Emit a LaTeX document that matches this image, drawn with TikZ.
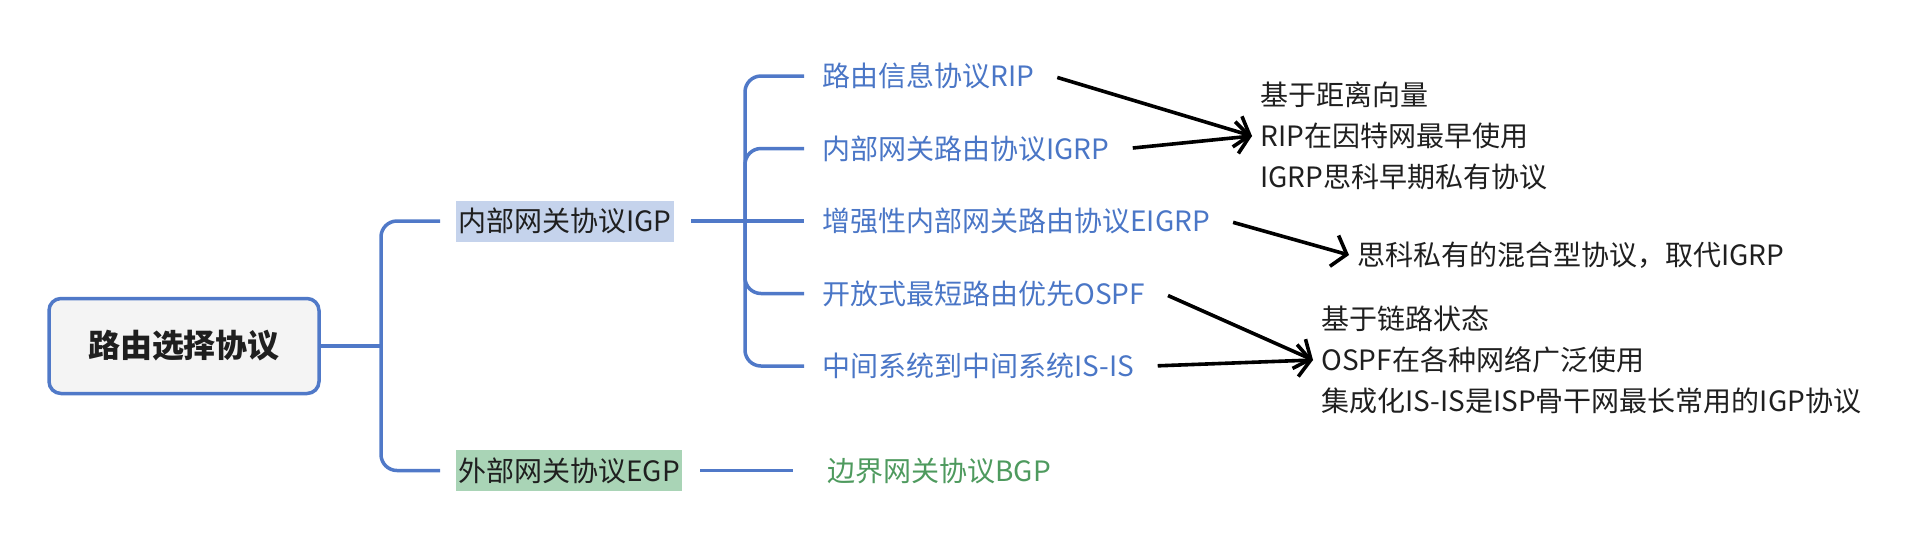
\documentclass[tikz,border=0pt]{standalone}
\usepackage{fontspec}
\setmainfont{Noto Sans CJK SC}
\usepackage{xcolor}
\definecolor{cLine}{HTML}{5079C8}
\definecolor{cLeaf}{HTML}{4A76C6}
\definecolor{cInk}{HTML}{1F1F1F}
\definecolor{cIGP}{HTML}{C5D3EC}
\definecolor{cEGP}{HTML}{A9D4B6}
\definecolor{cBGP}{HTML}{4E9A5E}
\definecolor{cRoot}{HTML}{F4F4F4}
\usepackage{tikz}
\usetikzlibrary{positioning,arrows.meta}
\tikzset{
  node-root/.style={draw=cLine,line width=1.75pt,rounded corners=6pt,fill=cRoot,
    minimum width=135pt,minimum height=47.5pt,text=cInk,
    font=\fontsize{16}{20}\selectfont\bfseries},
  node-mid/.style={inner xsep=1pt,inner ysep=0pt,minimum height=20.5pt,text=cInk,
    font=\fontsize{14}{20.5}\selectfont},
  node-leaf/.style={inner xsep=9pt,inner ysep=2pt,text=cLeaf,
    font=\fontsize{14}{20.5}\selectfont},
  node-note/.style={inner xsep=4pt,inner ysep=2pt,align=left,text=cInk,
    font=\fontsize{14}{20.5}\selectfont},
  branch/.style={draw=cLine,line width=1.75pt,rounded corners=8pt},
  arrow/.style={-{Straight Barb[length=6.5pt,width=16pt]},line width=1.8pt,
    draw=black,shorten <=2.5pt},
}

\begin{document}
\begin{tikzpicture}[x=0.5pt,y=-0.5pt]
  \useasboundingbox (0,0) rectangle (1908,548);
  % 根节点与两个分支
  \node[node-root]                        (root) at (184,346) {路由选择协议};
  \node[node-mid,fill=cIGP,anchor=west]   (igp)  at (456,221) {内部网关协议IGP};
  \node[node-mid,fill=cEGP,anchor=west]   (egp)  at (456,470.5) {外部网关协议EGP};
  \coordinate (t1) at (381,346);
  \coordinate (t2) at (745,221);
  % IGP 下的五种协议
  \node[node-leaf,anchor=west] (rip)   at (804,76)    {路由信息协议RIP};
  \node[node-leaf,anchor=west] (igrp)  at (804,148.5) {内部网关路由协议IGRP};
  \node[node-leaf,anchor=west] (eigrp) at (804,221)   {增强性内部网关路由协议EIGRP};
  \node[node-leaf,anchor=west] (ospf)  at (804,293.5) {开放式最短路由优先OSPF};
  \node[node-leaf,anchor=west] (isis)  at (804,366)   {中间系统到中间系统IS-IS};
  \node[node-leaf,text=cBGP,anchor=west] (bgp) at (809,470.5) {边界网关协议BGP};
  % 说明文字
  \node[node-note,anchor=west] (n-dv)    at (1252,136) {基于距离向量\\RIP在因特网最早使用\\IGRP思科早期私有协议};
  \node[node-note,anchor=west] (n-cisco) at (1349,255) {思科私有的混合型协议，取代IGRP};
  \node[node-note,anchor=west] (n-ls)    at (1313,360) {基于链路状态\\OSPF在各种网络广泛使用\\集成化IS-IS是ISP骨干网最长常用的IGP协议};
  % 连线
  \draw[branch] (root) -- (t1);
  \draw[branch,shorten >=8pt] (t1) |- (igp.west);
  \draw[branch,shorten >=8pt] (t1) |- (egp.west);
  \draw[branch] ([xshift=8.5pt]igp.east) -- (t2);
  \draw[branch] (t2) |- (rip.west);
  \draw[branch] (t2) |- (igrp.west);
  \draw[branch] (t2) -- (eigrp.west);
  \draw[branch] (t2) |- (ospf.west);
  \draw[branch] (t2) |- (isis.west);
  \draw[branch] ([xshift=9pt]egp.east) -- ([xshift=-8pt]bgp.west);
  \draw[arrow] (rip.east)   -- (n-dv.west);
  \draw[arrow] (igrp.east)  -- (n-dv.west);
  \draw[arrow] (eigrp.east) -- (n-cisco.west);
  \draw[arrow] (ospf.east)  -- (n-ls.west);
  \draw[arrow] (isis.east)  -- (n-ls.west);
\end{tikzpicture}
\end{document}
